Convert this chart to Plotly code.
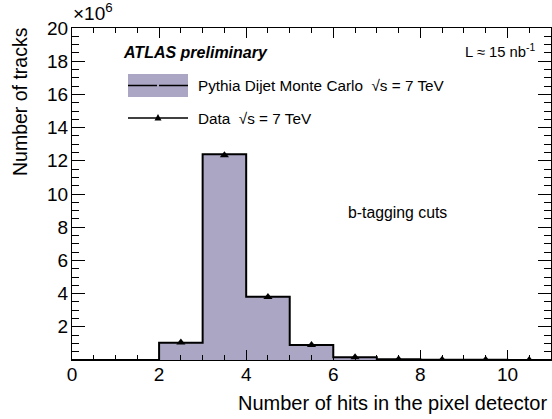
import plotly.graph_objects as go

# Bin centres (number of pixel hits) and contents in millions of tracks
bin_centers = [0.5, 1.5, 2.5, 3.5, 4.5, 5.5, 6.5, 7.5, 8.5, 9.5, 10.5]
mc_counts = [0.0, 0.0, 1.04, 12.40, 3.81, 0.90, 0.16, 0.04, 0.02, 0.01, 0.005]
data_counts = [0.0, 0.0, 1.05, 12.33, 3.80, 0.90, 0.17, 0.04, 0.02, 0.01, 0.005]
data_x = bin_centers[2:]
data_y = data_counts[2:]

y_tick_vals = [2, 4, 6, 8, 10, 12, 14, 16, 18, 20]
x_tick_vals = [0, 2, 4, 6, 8, 10]

FONT = "Liberation Sans, Arial, Helvetica, sans-serif"
FILL = "#aaa6c4"

# plot area in pixels, used to place the hand-drawn legend and titles
L_PX, R_PX, T_PX, B_PX = 72, 551, 28, 360


def px_x(p):
    return (p - L_PX) / (R_PX - L_PX)


def px_y(p):
    return (B_PX - p) / (B_PX - T_PX)


# step outline of the MC histogram
edges = [c - 0.5 for c in bin_centers] + [bin_centers[-1] + 0.5]
step_y = mc_counts + [mc_counts[-1]]

fig = go.Figure()
fig.add_trace(go.Bar(x=bin_centers, y=mc_counts, width=1.0,
                     marker=dict(color=FILL, line=dict(width=0)),
                     showlegend=False, hoverinfo="skip"))
fig.add_trace(go.Scatter(x=edges, y=step_y, mode="lines",
                         line=dict(color="black", width=2, shape="hv"),
                         showlegend=False, hoverinfo="skip"))
fig.add_trace(go.Scatter(x=data_x, y=data_y, mode="markers",
                         marker=dict(symbol="triangle-up", size=8, color="black"),
                         showlegend=False))

# legend drawn by hand in ROOT style
tri_x, tri_y = 158, 118
shapes = [
    dict(type="rect", xref="paper", yref="paper", x0=px_x(128), x1=px_x(188),
         y0=px_y(97), y1=px_y(74), fillcolor=FILL, line=dict(width=0)),
    dict(type="line", xref="paper", yref="paper", x0=px_x(128), x1=px_x(157),
         y0=px_y(85.5), y1=px_y(85.5), line=dict(color="black", width=1.5)),
    dict(type="line", xref="paper", yref="paper", x0=px_x(159), x1=px_x(188),
         y0=px_y(85.5), y1=px_y(85.5), line=dict(color="black", width=1.5)),
    dict(type="line", xref="paper", yref="paper", x0=px_x(128), x1=px_x(188),
         y0=px_y(tri_y), y1=px_y(tri_y), line=dict(color="black", width=1.5)),
    dict(type="path", xref="paper", yref="paper",
         path=(f"M {px_x(tri_x - 3.5)} {px_y(tri_y + 2.5)} "
               f"L {px_x(tri_x + 3.5)} {px_y(tri_y + 2.5)} "
               f"L {px_x(tri_x)} {px_y(tri_y - 4)} Z"),
         fillcolor="black", line=dict(width=0)),
]

annotations = [
    dict(text="<b><i>ATLAS preliminary</i></b>", x=px_x(121), y=px_y(52),
         xanchor="left", yanchor="middle", font=dict(size=16)),
    dict(text="Pythia Dijet Monte Carlo  \u221As = 7 TeV", x=px_x(196), y=px_y(86),
         xanchor="left", yanchor="middle", font=dict(size=15.3)),
    dict(text="Data  \u221As = 7 TeV", x=px_x(196), y=px_y(118),
         xanchor="left", yanchor="middle", font=dict(size=15.3)),
    dict(text="L \u2248 15 nb<sup>-1</sup>", x=px_x(538), y=px_y(51),
         xanchor="right", yanchor="middle", font=dict(size=14.8)),
    dict(text="b-tagging cuts", x=px_x(346), y=px_y(212),
         xanchor="left", yanchor="middle", font=dict(size=15.8)),
    dict(text="\u00d710<sup>6</sup>", x=px_x(71), y=px_y(12),
         xanchor="left", yanchor="middle", font=dict(size=19)),
    dict(text="Number of tracks", x=px_x(20), y=px_y(102), textangle=-90,
         xanchor="center", yanchor="middle", font=dict(size=19.5)),
    dict(text="Number of hits in the pixel detector", x=px_x(549), y=px_y(403),
         xanchor="right", yanchor="middle", font=dict(size=20)),
]
for a in annotations:
    a.update(xref="paper", yref="paper", showarrow=False)

fig.update_layout(
    width=552, height=419,
    margin=dict(l=L_PX, r=552 - R_PX, t=T_PX, b=419 - B_PX),
    paper_bgcolor="white", plot_bgcolor="white",
    font=dict(family=FONT, color="black"),
    bargap=0,
    shapes=shapes,
    annotations=annotations,
    xaxis=dict(range=[0, 11], tickvals=x_tick_vals, ticks="inside", ticklen=10,
               tickwidth=1, tickcolor="black", showline=True, linecolor="black",
               linewidth=1, mirror="ticks", showgrid=False, zeroline=False,
               tickfont=dict(size=19), ticklabelstandoff=-3,
               minor=dict(dtick=0.5, tick0=0, ticks="inside", ticklen=5,
                          tickcolor="black", showgrid=False)),
    yaxis=dict(range=[0, 20], tickvals=y_tick_vals, ticks="inside", ticklen=13,
               tickwidth=1, tickcolor="black", showline=True, linecolor="black",
               linewidth=1, mirror="ticks", showgrid=False, zeroline=False,
               tickfont=dict(size=19), ticklabelstandoff=-1,
               minor=dict(dtick=0.5, tick0=0, ticks="inside", ticklen=7,
                          tickcolor="black", showgrid=False)),
)

fig.write_html("out.html")
